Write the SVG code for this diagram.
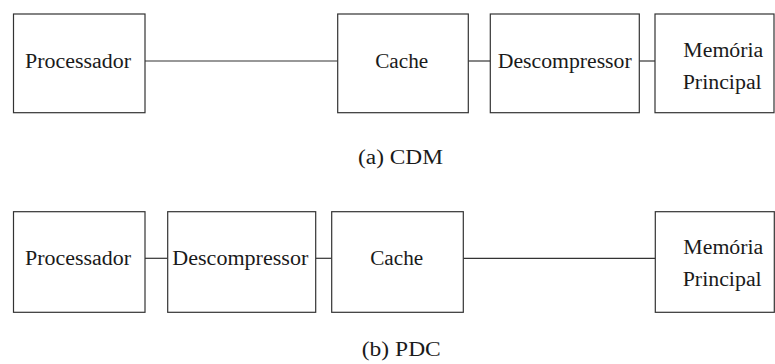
<svg xmlns="http://www.w3.org/2000/svg" width="775" height="364" viewBox="0 0 775 364">
<style>
.box{fill:#fff;stroke:#333;stroke-width:1.2}
.ln{stroke:#333;stroke-width:1.2;fill:none}
.t{font-size:20px;fill:#1a1a1a;text-anchor:middle}
</style>
<rect width="775" height="364" fill="#fff"/>
<g id="connectors">
<line class="ln" x1="145" y1="61" x2="337.7" y2="61"/>
<line class="ln" x1="468.3" y1="61" x2="490.3" y2="61"/>
<line class="ln" x1="639.3" y1="61" x2="655" y2="61"/>
<line class="ln" x1="145" y1="258.3" x2="167.7" y2="258.3"/>
<line class="ln" x1="315.7" y1="258.3" x2="331.7" y2="258.3"/>
<line class="ln" x1="463.3" y1="258.3" x2="655.3" y2="258.3"/>
</g>
<g font-family="Liberation Serif, DejaVu Serif, serif">
<g id="a-processador">
<rect class="box" x="13.5" y="14" width="131.5" height="98.7"/>
<text class="t" x="78" y="67.5" textLength="106" lengthAdjust="spacingAndGlyphs">Processador</text>
</g>
<g id="a-cache">
<rect class="box" x="337.7" y="14" width="130.6" height="98.7"/>
<text class="t" x="401.7" y="67.5" textLength="53" lengthAdjust="spacingAndGlyphs">Cache</text>
</g>
<g id="a-descompressor">
<rect class="box" x="490.3" y="14" width="149" height="98.7"/>
<text class="t" x="564.7" y="67.5" textLength="134" lengthAdjust="spacingAndGlyphs">Descompressor</text>
</g>
<g id="a-memoria">
<rect class="box" x="655" y="14" width="119" height="98.7"/>
<text class="t" x="723.3" y="57" textLength="80" lengthAdjust="spacingAndGlyphs">Memória</text>
<text class="t" x="722.2" y="89" textLength="79" lengthAdjust="spacingAndGlyphs">Principal</text>
</g>
<g id="caption-a">
<text class="t" x="400.5" y="164.3" textLength="85" lengthAdjust="spacingAndGlyphs">(a) CDM</text>
</g>
<g id="b-processador">
<rect class="box" x="13.5" y="211.7" width="131.5" height="100.6"/>
<text class="t" x="78" y="265" textLength="106" lengthAdjust="spacingAndGlyphs">Processador</text>
</g>
<g id="b-descompressor">
<rect class="box" x="167.7" y="211.7" width="148" height="100.6"/>
<text class="t" x="240.3" y="265" textLength="136" lengthAdjust="spacingAndGlyphs">Descompressor</text>
</g>
<g id="b-cache">
<rect class="box" x="331.7" y="211.7" width="131.6" height="100.6"/>
<text class="t" x="396.7" y="265" textLength="53" lengthAdjust="spacingAndGlyphs">Cache</text>
</g>
<g id="b-memoria">
<rect class="box" x="655.3" y="211.7" width="119" height="100.6"/>
<text class="t" x="723.3" y="254.3" textLength="80" lengthAdjust="spacingAndGlyphs">Memória</text>
<text class="t" x="722.2" y="286" textLength="79" lengthAdjust="spacingAndGlyphs">Principal</text>
</g>
<g id="caption-b">
<text class="t" x="401.3" y="356" textLength="79" lengthAdjust="spacingAndGlyphs">(b) PDC</text>
</g>
</g>
</svg>
